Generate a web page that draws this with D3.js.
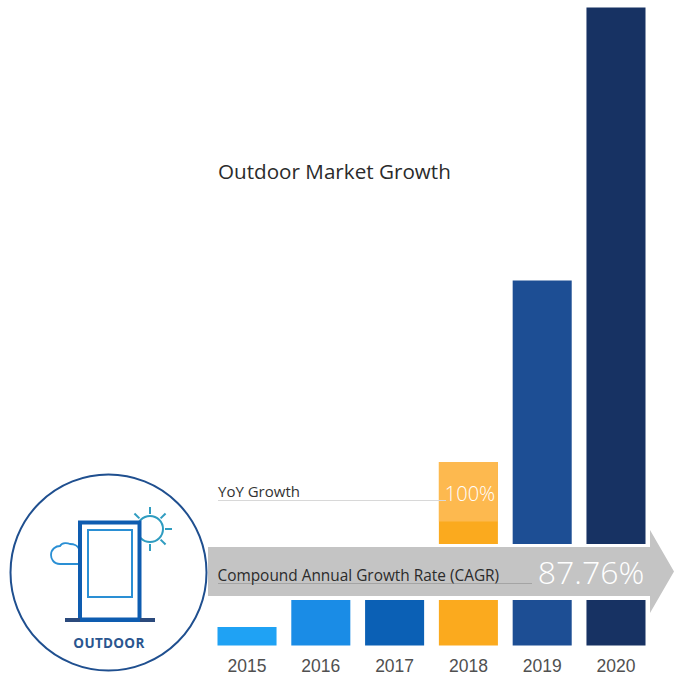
<!DOCTYPE html>
<html>
<head>
<meta charset="utf-8">
<script src="https://cdn.jsdelivr.net/npm/d3@7/dist/d3.min.js"></script>
<style>
  html, body { margin: 0; padding: 0; background: #fff; }
  svg { display: block; }
  text { font-family: "Open Sans", sans-serif; }
</style>
</head>
<body>
<svg id="chart" width="674" height="676"></svg>
<script>
// Market size by year (relative units)
const years = ["2015", "2016", "2017", "2018", "2019", "2020"];
const marketSize = [18.5, 45.5, 45.5, 183.5, 365, 638];
const barColors = ["#1fa2f4", "#1a8ce6", "#0b60b5", "#fbaa1e", "#1d4e94", "#173263"];
// The 2018 bar's lighter cap starts at this value
const highlightYears = ["2018"];
const highlightFrom = [124];
const highlightColor = "#fdb94f";

const titleText = "Outdoor Market Growth";
const yoyLabel = "YoY Growth";
const yoyValue = "100%";
const cagrLabel = "Compound Annual Growth Rate (CAGR)";
const cagrValue = "87.76%";
const badgeLabel = "OUTDOOR";

const svg = d3.select("#chart");

const x = d3.scaleBand().domain(years).range([217.5, 645.5]).paddingInner(0.2);
const y = d3.scaleLinear().domain([0, 638]).range([645.5, 7.5]);

// Bars
svg.append("g").selectAll("rect").data(years).join("rect")
  .attr("x", d => x(d))
  .attr("width", x.bandwidth())
  .attr("y", (d, i) => y(marketSize[i]))
  .attr("height", (d, i) => y(0) - y(marketSize[i]))
  .attr("fill", (d, i) => barColors[i]);

// Lighter cap of the YoY bar
svg.append("g").selectAll("rect").data(highlightYears).join("rect")
  .attr("x", d => x(d))
  .attr("width", x.bandwidth())
  .attr("y", d => y(marketSize[years.indexOf(d)]))
  .attr("height", (d, i) => y(highlightFrom[i]) - y(marketSize[years.indexOf(d)]))
  .attr("fill", highlightColor);

// Year labels
const xAxis = svg.append("g")
  .attr("transform", "translate(0,655.6)")
  .call(d3.axisBottom(x).tickSize(0).tickPadding(4));
xAxis.select(".domain").remove();
xAxis.selectAll("text")
  .attr("font-size", 17.5)
  .attr("fill", "#505050")
  .style("font-family", "'Liberation Sans', sans-serif");

// White gaps either side of the CAGR arrow, then the arrow itself
svg.append("rect").attr("x", 208).attr("y", 544).attr("width", 466).attr("height", 3).attr("fill", "#fff");
svg.append("rect").attr("x", 208).attr("y", 596).attr("width", 442).attr("height", 4).attr("fill", "#fff");
svg.append("path")
  .attr("d", "M208,547H650V530L674,571.5L650,613V596H208Z")
  .attr("fill", "#c4c4c4");

// Leader lines
svg.append("line").attr("x1", 218).attr("x2", 446).attr("y1", 500.5).attr("y2", 500.5)
  .attr("stroke", "#d8d8d8").attr("stroke-width", 1);
svg.append("line").attr("x1", 218).attr("x2", 532).attr("y1", 583.5).attr("y2", 583.5)
  .attr("stroke", "#a4a4a4").attr("stroke-width", 1);

// Text
svg.append("text").attr("x", 218).attr("y", 179).attr("font-size", 20.65)
  .attr("fill", "#2b2b2b").text(titleText);
svg.append("text").attr("x", 218).attr("y", 497).attr("font-size", 15)
  .attr("fill", "#333").text(yoyLabel);
svg.append("text").attr("x", 470).attr("y", 501).attr("font-size", 20).attr("font-weight", 300)
  .attr("text-anchor", "middle").attr("fill", "#fff").text(yoyValue);
svg.append("text").attr("x", 217.5).attr("y", 581).attr("font-size", 15.4)
  .attr("fill", "#2b2b2b").text(cagrLabel);
svg.append("text").attr("x", 591).attr("y", 584).attr("font-size", 32).attr("font-weight", 300)
  .attr("text-anchor", "middle").attr("fill", "#fff").text(cagrValue);

// Outdoor badge: ring, display stand, sun and cloud
const badge = svg.append("g").attr("fill", "none");
badge.append("circle").attr("cx", 108.5).attr("cy", 572.5).attr("r", 98)
  .attr("fill", "#fff").attr("stroke", "#1f4f8f").attr("stroke-width", 2);

// Sun
const sun = badge.append("g").attr("transform", "translate(150,529)")
  .attr("stroke", "#2f9cc0").attr("stroke-width", 2);
sun.append("circle").attr("r", 13).attr("fill", "#fff");
d3.range(8).forEach(k => {
  const a = k * Math.PI / 4;
  sun.append("line")
    .attr("x1", 15 * Math.cos(a)).attr("y1", 15 * Math.sin(a))
    .attr("x2", 22 * Math.cos(a)).attr("y2", 22 * Math.sin(a));
});

// Cloud
badge.append("path")
  .attr("d", "M79,564H60C53,564 51,558 51,555C51,549 56,546 60,546C62,542 68,543 70,544C74,544 78,546 79,549")
  .attr("stroke", "#2a8fd4").attr("stroke-width", 1.8).attr("fill", "#fff");

// Display stand
badge.append("rect").attr("x", 80).attr("y", 522.5).attr("width", 59.5).attr("height", 97)
  .attr("fill", "#fff").attr("stroke", "#0e5cb0").attr("stroke-width", 4);
badge.append("rect").attr("x", 88).attr("y", 530).attr("width", 44).attr("height", 67)
  .attr("stroke", "#2a8fd4").attr("stroke-width", 2);
badge.append("line").attr("x1", 65).attr("x2", 155).attr("y1", 620).attr("y2", 620)
  .attr("stroke", "#2b4a7c").attr("stroke-width", 4);
badge.append("line").attr("x1", 80).attr("x2", 140).attr("y1", 620).attr("y2", 620)
  .attr("stroke", "#0e5cb0").attr("stroke-width", 4);

svg.append("text").attr("x", 109).attr("y", 648).attr("font-size", 13.5).attr("font-weight", 700)
  .attr("text-anchor", "middle").attr("fill", "#2a568f").attr("letter-spacing", 0.3).text(badgeLabel);
</script>
</body>
</html>
